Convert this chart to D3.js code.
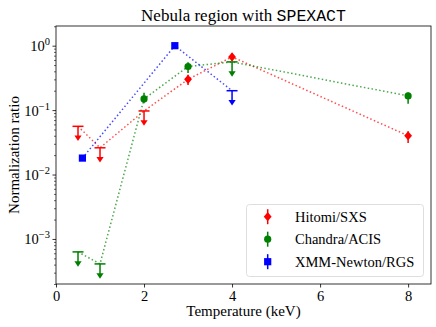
<!DOCTYPE html>
<html>
<head>
<meta charset="utf-8">
<script src="https://cdn.jsdelivr.net/npm/d3@7"></script>
<style>
  body { margin: 0; background: #fff; }
</style>
</head>
<body>
<svg id="canvas" width="436" height="327"></svg>
<script>
// Hitomi/SXS
const hitomiT = [0.5, 1, 2, 3, 4, 8]
const hitomiVal = [0.056, 0.026, 0.097, 0.30, 0.67, 0.040]
const hitomiErrLo = [0, 0, 0, 0.055, 0.09, 0.009]
const hitomiErrHi = [0, 0, 0, 0.055, 0.09, 0.007]
const hitomiLim = [true, true, true, false, false, false]

// Chandra/ACIS
const chandraT = [0.5, 1, 2, 3, 4, 8]
const chandraVal = [0.00063, 0.00041, 0.149, 0.475, 0.56, 0.166]
const chandraErrLo = [0, 0, 0.021, 0.10, 0, 0.04]
const chandraErrHi = [0, 0, 0.037, 0.08, 0, 0.022]
const chandraLim = [true, true, false, false, true, false]

// XMM-Newton/RGS
const xmmT = [0.6, 2.7, 4]
const xmmVal = [0.018, 1.0, 0.20]
const xmmErrLo = [0, 0, 0]
const xmmErrHi = [0, 0, 0]
const xmmLim = [false, false, true]

const xTicks = [0, 2, 4, 6, 8]
const yTicks = [1e-3, 1e-2, 1e-1, 1]

const series = [
  { name: 'Hitomi/SXS', color: '#ff0000', marker: 'diamond', t: hitomiT, v: hitomiVal, lo: hitomiErrLo, hi: hitomiErrHi, lim: hitomiLim },
  { name: 'Chandra/ACIS', color: '#008000', marker: 'circle', t: chandraT, v: chandraVal, lo: chandraErrLo, hi: chandraErrHi, lim: chandraLim },
  { name: 'XMM-Newton/RGS', color: '#0000ff', marker: 'square', t: xmmT, v: xmmVal, lo: xmmErrLo, hi: xmmErrHi, lim: xmmLim }
]

const serifFont = "'Liberation Serif', 'DejaVu Serif', serif"
const monoFont = "'Liberation Mono', 'DejaVu Sans Mono', monospace"

const plotLeft = 56, plotRight = 431, plotTop = 26, plotBottom = 284

const canvas = d3.select('#canvas').style('font-family', serifFont)

const xScale = d3.scaleLinear().domain([0, 8.52]).range([plotLeft, plotRight])
const yScale = d3.scaleLog().domain([2.0e-4, 2.02]).range([plotBottom, plotTop])

// minor ticks for the log axis
const minors = []
for (let e = -4; e <= 0; e++) {
  for (let m = 2; m <= 9; m++) {
    const v = m * Math.pow(10, e)
    if (v >= 2.0e-4 && v <= 2.02) minors.push(v)
  }
}

const plot = canvas.append('g')

// lines
const line = d3.line().x(d => xScale(d[0])).y(d => yScale(d[1]))
series.forEach(s => {
  plot.append('path')
    .datum(s.t.map((t, i) => [t, s.v[i]]))
    .attr('d', line)
    .attr('fill', 'none')
    .attr('stroke', s.color)
    .attr('stroke-width', 1.5)
    .attr('stroke-dasharray', '1.5,2.4')
    .attr('opacity', 0.7)
})

function drawMarker(g, type, cx, cy, color) {
  if (type === 'diamond') {
    const r = 4.6
    g.append('path')
      .attr('d', `M${cx},${cy - r}L${cx + r * 0.85},${cy}L${cx},${cy + r}L${cx - r * 0.85},${cy}Z`)
      .attr('fill', color)
  } else if (type === 'circle') {
    g.append('circle').attr('cx', cx).attr('cy', cy).attr('r', 3.6).attr('fill', color)
  } else {
    g.append('rect').attr('x', cx - 3.6).attr('y', cy - 3.6).attr('width', 7.2).attr('height', 7.2).attr('fill', color)
  }
}

// error bars, upper limits and markers
series.forEach(s => {
  const g = plot.append('g')
  s.t.forEach((t, i) => {
    const cx = xScale(t)
    const cy = yScale(s.v[i])
    if (s.lim[i]) {
      const tip = yScale(s.v[i] * 0.6)
      g.append('line').attr('x1', cx - 5.5).attr('x2', cx + 5.5).attr('y1', cy).attr('y2', cy)
        .attr('stroke', s.color).attr('stroke-width', 1.5)
      g.append('line').attr('x1', cx).attr('x2', cx).attr('y1', cy).attr('y2', tip - 3)
        .attr('stroke', s.color).attr('stroke-width', 1.5)
      g.append('path')
        .attr('d', `M${cx - 3.6},${tip - 5}L${cx + 3.6},${tip - 5}L${cx},${tip + 0.5}Z`)
        .attr('fill', s.color)
    } else {
      if (s.lo[i] > 0 || s.hi[i] > 0) {
        g.append('line').attr('x1', cx).attr('x2', cx)
          .attr('y1', yScale(s.v[i] + s.hi[i])).attr('y2', yScale(s.v[i] - s.lo[i]))
          .attr('stroke', s.color).attr('stroke-width', 1.5)
      }
      drawMarker(g, s.marker, cx, cy, s.color)
    }
  })
})

// axes
const xAxis = d3.axisBottom(xScale).tickValues(xTicks).tickSize(3.5).tickPadding(3).tickFormat(d3.format('d'))
const xg = canvas.append('g').attr('transform', `translate(0, ${plotBottom})`).call(xAxis)
xg.attr('font-family', null).attr('font-size', null)
xg.select('.domain').remove()
xg.selectAll('line').attr('stroke', '#000').attr('stroke-width', 0.8)
xg.selectAll('text').attr('font-size', 14.5).attr('fill', '#000')

const yAxis = d3.axisLeft(yScale).tickValues(yTicks).tickSize(3.5).tickFormat('')
const yg = canvas.append('g').attr('transform', `translate(${plotLeft}, 0)`).call(yAxis)
yg.attr('font-family', null).attr('font-size', null)
yg.select('.domain').remove()
yg.selectAll('line').attr('stroke', '#000').attr('stroke-width', 0.8)
yg.selectAll('.tick').each(function (d) {
  const txt = d3.select(this).append('text')
    .attr('x', -6).attr('y', 5)
    .attr('text-anchor', 'end')
    .attr('fill', '#000')
    .attr('font-size', 14.5)
  txt.append('tspan').text('10')
  txt.append('tspan').attr('dy', -6).attr('font-size', 10.5).text(d3.format('d')(Math.log10(d)).replace('-', '\u2212'))
})

const yMinor = d3.axisLeft(yScale).tickValues(minors).tickSize(2).tickFormat('')
const ym = canvas.append('g').attr('transform', `translate(${plotLeft}, 0)`).call(yMinor)
ym.select('.domain').remove()
ym.selectAll('line').attr('stroke', '#000').attr('stroke-width', 0.6)

// frame
canvas.append('rect')
  .attr('x', plotLeft).attr('y', plotTop)
  .attr('width', plotRight - plotLeft).attr('height', plotBottom - plotTop)
  .attr('fill', 'none').attr('stroke', '#000').attr('stroke-width', 0.8)

// title and labels
const title = canvas.append('text')
  .attr('x', (plotLeft + plotRight) / 2).attr('y', 20.5)
  .attr('text-anchor', 'middle')
  .attr('font-size', 17)
title.append('tspan').text('Nebula region with ')
title.append('tspan').style('font-family', monoFont).attr('font-size', 16.5).text('SPEXACT')

canvas.append('text')
  .attr('x', (plotLeft + plotRight) / 2).attr('y', 316)
  .attr('text-anchor', 'middle')
  .attr('font-size', 15)
  .text('Temperature (keV)')

canvas.append('text')
  .attr('transform', `translate(19, ${(plotTop + plotBottom) / 2}) rotate(-90)`)
  .attr('text-anchor', 'middle')
  .attr('font-size', 15)
  .text('Normalization ratio')

// legend
const lg = canvas.append('g')
lg.append('rect')
  .attr('x', 246.5).attr('y', 204.5).attr('width', 177).attr('height', 72)
  .attr('rx', 3).attr('fill', '#fff').attr('fill-opacity', 0.8)
  .attr('stroke', '#d5d5d5').attr('stroke-width', 0.8)
series.forEach((s, i) => {
  const cy = 216.7 + i * 22.5
  lg.append('line').attr('x1', 267.7).attr('x2', 267.7).attr('y1', cy - 7.5).attr('y2', cy + 7.5)
    .attr('stroke', s.color).attr('stroke-width', 1.5)
  drawMarker(lg, s.marker, 267.7, cy, s.color)
  lg.append('text').attr('x', 295).attr('y', cy + 5).attr('font-size', 14.5).text(s.name)
})
</script>
</body>
</html>
